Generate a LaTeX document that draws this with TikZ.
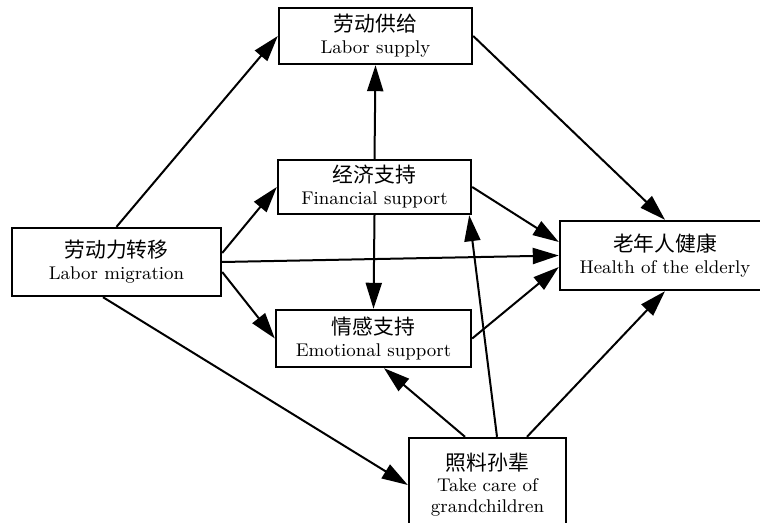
\documentclass[tikz,border=0pt]{standalone}
\usepackage{fontspec}
\newfontfamily\cjk{Noto Sans CJK SC}
\usetikzlibrary{arrows.meta}

\newcommand{\zh}[1]{{\cjk\fontsize{10.4}{12}\selectfont #1}}

\begin{document}
\begin{tikzpicture}[x=0.5pt, y=-0.5pt,
    factor box/.style={draw, rectangle, line width=1.2pt, inner sep=0pt, align=center, font=\fontsize{9.2}{10.5}\selectfont},
    path arrow/.style={-{Triangle[length=13pt,width=8pt]}, line width=1pt}]
    \useasboundingbox (0,0) rectangle (760,523);
    \clip (0,0) rectangle (760,523);

    \node[factor box, minimum width=96.5pt, minimum height=28pt] (supply) at (375.5,36) {\zh{劳动供给}\\[0.5pt]Labor supply};
    \node[factor box, minimum width=96.5pt, minimum height=27pt] (finance) at (374.5,187) {\zh{经济支持}\\[0.5pt]Financial support};
    \node[factor box, minimum width=104.5pt, minimum height=34pt] (migration) at (116.5,262) {\zh{劳动力转移}\\[0.5pt]Labor migration};
    \node[factor box, minimum width=97.5pt, minimum height=28.5pt] (emotion) at (373.5,338.5) {\zh{情感支持}\\[0.5pt]Emotional support};
    \node[factor box, minimum width=105pt, minimum height=34.5pt] (health) at (665,255.5) {\zh{老年人健康}\\[0.5pt]Health of the elderly};
    \node[factor box, minimum width=78.5pt, minimum height=47pt] (care) at (487.5,485) {\zh{照料孙辈}\\[0pt]Take care of\\grandchildren};

    \draw[path arrow] (migration.north) -- (supply.west);
    \draw[path arrow] ([yshift=4.5pt]migration.east) -- (finance.west);
    \draw[path arrow] (migration.east) -- (health.west);
    \draw[path arrow] ([yshift=-5pt]migration.east) -- (emotion.west);
    \draw[path arrow] ([xshift=-6.75pt]migration.south) -- (care.west);

    \draw[path arrow] (finance.north) -- (supply.south);
    \draw[path arrow] (finance.south) -- (emotion.north);

    \draw[path arrow] (supply.east) -- (health.north);
    \draw[path arrow] (finance.east) -- ([yshift=6.75pt]health.west);
    \draw[path arrow] (emotion.east) -- ([yshift=-5.75pt]health.west);

    \draw[path arrow] ([xshift=4.75pt]care.north) -- ([xshift=-1.5pt]finance.south east);
    \draw[path arrow] ([xshift=-11.25pt]care.north) -- ([xshift=5.25pt]emotion.south);
    \draw[path arrow] ([xshift=19.75pt]care.north) -- (health.south);
\end{tikzpicture}
\end{document}
